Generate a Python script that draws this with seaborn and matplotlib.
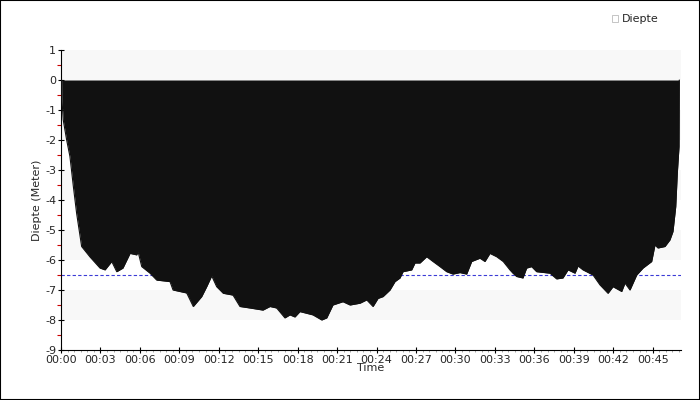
import matplotlib
matplotlib.use("Agg")
import matplotlib.pyplot as plt
import matplotlib.ticker as mticker
from matplotlib.patches import Rectangle, Patch
import seaborn as sns
import numpy as np
import pandas as pd

# dive profile (minutes, metres)
time_min = [0.0, 0.05, 0.06, 0.17, 0.43, 0.68, 0.94, 1.19, 1.57, 2.21, 2.97, 3.35, 3.86,
            4.24, 4.71, 5.25, 5.76, 5.86, 6.14, 6.77, 7.28, 8.29, 8.52, 9.56, 10.06,
            10.70, 11.08, 11.46, 11.84, 12.34, 13.08, 13.61, 14.37, 15.36, 15.89, 16.40,
            17.03, 17.41, 17.79, 18.17, 19.16, 19.83, 20.21, 20.68, 21.44, 21.98, 22.74,
            23.25, 23.73, 24.11, 24.49, 25.02, 25.40, 25.78, 26.01, 26.67, 26.92, 27.30,
            27.81, 28.29, 28.82, 29.33, 29.81, 30.34, 30.85, 31.23, 31.86, 32.24, 32.62,
            33.13, 33.63, 34.14, 34.37, 34.65, 35.13, 35.41, 35.79, 36.17, 37.19, 37.69,
            38.17, 38.56, 39.09, 39.32, 39.70, 40.46, 40.99, 41.60, 41.98, 42.64, 42.89,
            43.27, 43.78, 44.26, 44.92, 45.17, 45.40, 45.93, 46.31, 46.54, 46.75, 46.87,
            47.00, 47.02]
depth_m = [0.0, 0.0, -0.55, -1.33, -2.0, -2.55, -3.55, -4.45, -5.55, -5.9, -6.27, -6.33, -6.05,
           -6.39, -6.27, -5.78, -5.83, -5.72, -6.22, -6.44, -6.67, -6.72, -7.0, -7.1, -7.55,
           -7.22, -6.89, -6.53, -6.89, -7.11, -7.17, -7.55, -7.6, -7.67, -7.55, -7.6,
           -7.93, -7.83, -7.9, -7.72, -7.83, -8.0, -7.93, -7.5, -7.39, -7.5, -7.44,
           -7.33, -7.55, -7.28, -7.22, -7.0, -6.72, -6.6, -6.39, -6.33, -6.1, -6.1,
           -5.89, -6.05, -6.22, -6.39, -6.47, -6.42, -6.47, -6.05, -5.94, -6.05, -5.78,
           -5.89, -6.05, -6.33, -6.44, -6.55, -6.6, -6.27, -6.22, -6.39, -6.44, -6.63,
           -6.6, -6.33, -6.44, -6.2, -6.33, -6.5, -6.83, -7.11, -6.89, -7.05, -6.77,
           -7.0, -6.5, -6.27, -6.05, -5.5, -5.6, -5.55, -5.33, -5.05, -4.22, -3.1,
           -2.22, 0.0]
ref_depth = -6.5
x_ticks = list(range(0, 46, 3))
x_labels = ["00:%02d" % m for m in x_ticks]
y_ticks = list(range(-9, 2))

df = pd.DataFrame({"Time": time_min, "Diepte": depth_m})

sns.set_theme(style="white")
plt.rcParams["font.family"] = ["DejaVu Sans"]
plt.rcParams["axes.unicode_minus"] = False

fig = plt.figure(figsize=(7, 4), dpi=100)
ax = fig.add_axes([61 / 700, 50 / 400, 620 / 700, 300 / 400])

# alternating horizontal bands
for lo in range(-9, 1):
    if (lo % 2) == 0:
        ax.axhspan(lo, lo + 1, color="#f8f8f8", lw=0, zorder=0)

ax.axhline(ref_depth, color="#3b3bd6", lw=0.8, ls=(0, (3, 2)), zorder=1)

ax.fill_between(df["Time"], df["Diepte"], 0, color="#111111", lw=0, zorder=2)
sns.lineplot(data=df, x="Time", y="Diepte", color="#111111", lw=0.8, ax=ax, zorder=3)

ax.set_xlim(0, 47.15)
ax.set_ylim(-9, 1)
ax.set_xticks(x_ticks)
ax.set_xticklabels(x_labels)
ax.set_yticks(y_ticks)
ax.yaxis.set_minor_locator(mticker.MultipleLocator(0.5))
ax.xaxis.set_minor_locator(mticker.MultipleLocator(0.5))
ax.tick_params(axis="both", which="major", labelsize=8, length=5, width=0.8,
               color="black", pad=1, direction="inout")
ax.tick_params(axis="y", which="minor", length=3, width=0.8, color="#cc0000", direction="out")
ax.tick_params(axis="x", which="minor", length=1.5, width=0.6, color="#999999", direction="out")
ax.tick_params(left=True, bottom=True, which="both")

for side in ["top", "right"]:
    ax.spines[side].set_visible(False)
for side in ["left", "bottom"]:
    ax.spines[side].set_color("black")
    ax.spines[side].set_linewidth(0.8)

ax.set_xlabel("Time", fontsize=8, labelpad=-1)
ax.set_ylabel("Diepte (Meter)", fontsize=8, labelpad=2)

handle = Patch(facecolor="white", edgecolor="#bbbbbb", lw=0.6)
fig.legend([handle], ["Diepte"], loc="upper right", bbox_to_anchor=(0.955, 0.99),
           frameon=False, fontsize=8, handlelength=0.6, handleheight=0.6,
           handletextpad=0.3)

fig.patches.append(Rectangle((0, 0), 1, 1, transform=fig.transFigure, fill=False,
                             edgecolor="black", lw=1.5))

fig.savefig("out.png", dpi=100)
